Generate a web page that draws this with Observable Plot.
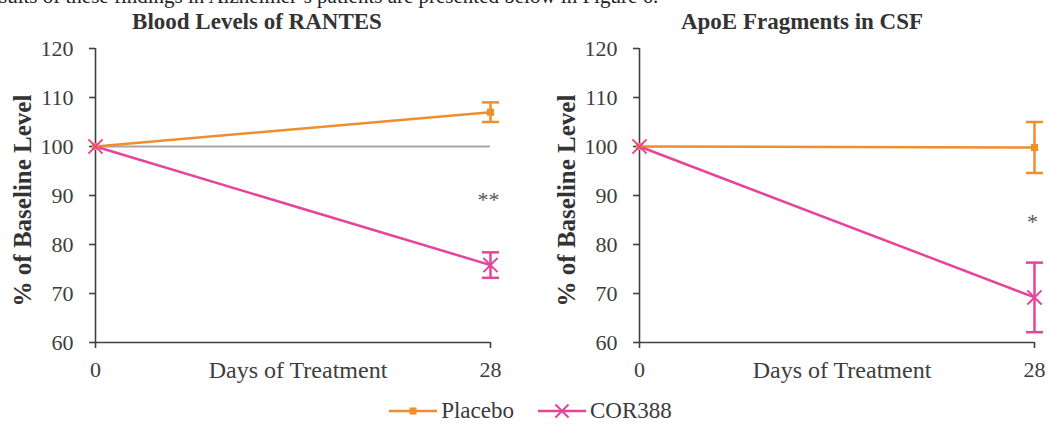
<!DOCTYPE html>
<html>
<head>
<meta charset="utf-8">
<script src="https://cdn.jsdelivr.net/npm/d3@7"></script>
<script src="https://cdn.jsdelivr.net/npm/@observablehq/plot@0.6"></script>
<style>
  html, body { margin: 0; padding: 0; background: #fff; }
  #page { position: relative; width: 1049px; height: 424px; overflow: hidden; font-family: 'Liberation Serif', 'Times New Roman', serif; color: #3a3a3a; }
  .abs { position: absolute; }
  .title { font-weight: bold; font-size: 23px; transform: translateX(-50%); white-space: nowrap; color: #333; line-height: 23px; }
  #sentence { left: -1px; top: -14px; font-size: 21px; line-height: 21px; color: #222; white-space: nowrap; }
  #legend { left: 6px; top: 398px; width: 1049px; display: flex; justify-content: center; align-items: center; font-size: 23px; line-height: 26px; }
  #legend .item { display: flex; align-items: center; }
  #legend svg { display: block; }
  .chart { width: 520px; height: 347px; }
  .chart svg { max-width: none !important; }
</style>
</head>
<body>
<div id="page">
  <div id="sentence" class="abs">sults of these findings in Alzheimer’s patients are presented below in Figure 6.</div>
  <div class="abs title" style="left:257px; top:10px;">Blood Levels of RANTES</div>
  <div class="abs title" style="left:802px; top:10px;">ApoE Fragments in CSF</div>
  <div id="left" class="abs chart" style="left:0px; top:35px;"></div>
  <div id="right" class="abs chart" style="left:544px; top:35px;"></div>
  <div id="legend" class="abs"></div>
</div>
<script>
// ---- data ----
const days = [0, 28];
const seriesNames = ["Placebo", "COR388"];
const seriesColors = ["#ee8e2e", "#e6449b"];
const rantesPlacebo = [100, 107.0];
const rantesPlaceboErr = [0, 2.0];
const rantesCor = [100, 75.8];
const rantesCorErr = [0, 2.6];
const apoePlacebo = [100, 99.8];
const apoePlaceboErr = [0, 5.2];
const apoeCor = [100, 69.2];
const apoeCorErr = [0, 7.1];
const yTicks = [60, 70, 80, 90, 100, 110, 120];
const xTicks = [0, 28];
const rantesSig = {day: 28, value: 89.6, label: "**"};
const apoeSig = {day: 28, value: 85.0, label: "*"};
const baseline = [100];

const axisColor = "#404040";
const textColor = "#3d3d3d";
const capSymbol = {
  draw(context, size) {
    const w = 8.5;
    context.moveTo(-w, 0);
    context.lineTo(w, 0);
  }
};

function rows(placebo, pErr, cor, cErr) {
  const out = [];
  days.forEach((d, i) => {
    out.push({series: seriesNames[0], day: d, value: placebo[i], err: pErr[i]});
    out.push({series: seriesNames[1], day: d, value: cor[i], err: cErr[i]});
  });
  return out;
}

function chart(data, sig, showBaseline) {
  const withErr = data.filter(d => d.err > 0);
  const color = {domain: seriesNames, range: seriesColors};
  return Plot.plot({
    width: 520,
    height: 347,
    marginLeft: 95,
    marginRight: 30,
    marginTop: 13,
    marginBottom: 40,
    x: {domain: [0, 28], axis: null},
    y: {domain: [60, 120], axis: null},
    color,
    style: {fontFamily: "'Liberation Serif', serif", fontSize: "22px", background: "white", color: textColor, overflow: "visible", maxWidth: "none"},
    marks: [
      showBaseline ? Plot.ruleY(baseline, {stroke: "#a6a6a6", strokeWidth: 2}) : null,
      Plot.ruleY([60], {stroke: axisColor, strokeWidth: 1.6}),
      Plot.ruleX([0], {stroke: axisColor, strokeWidth: 1.6}),
      Plot.axisY({ticks: yTicks, tickSize: 6, tickPadding: 16, fontSize: 22, stroke: axisColor, strokeWidth: 1.6, fill: textColor, label: null}),
      Plot.axisX({ticks: xTicks, tickSize: 6, tickPadding: 13, fontSize: 22, stroke: axisColor, strokeWidth: 1.6, fill: textColor, label: null}),
      Plot.text(["Days of Treatment"], {frameAnchor: "bottom", lineAnchor: "middle", dx: 5, dy: 28, fontSize: 24, fill: textColor}),
      Plot.text(["% of Baseline Level"], {frameAnchor: "left", textAnchor: "middle", rotate: -90, dx: -73, dy: 5, fontSize: 25, fontWeight: "bold", fill: "#333"}),
      Plot.line(data, {x: "day", y: "value", z: "series", stroke: "series", strokeWidth: 2.5}),
      Plot.ruleX(withErr, {x: "day", y1: d => d.value - d.err, y2: d => d.value + d.err, stroke: "series", strokeWidth: 2.5}),
      Plot.dot(withErr, {x: "day", y: d => d.value - d.err, symbol: capSymbol, r: 5, fill: "none", stroke: "series", strokeWidth: 2.5}),
      Plot.dot(withErr, {x: "day", y: d => d.value + d.err, symbol: capSymbol, r: 5, fill: "none", stroke: "series", strokeWidth: 2.5}),
      Plot.dot(data.filter(d => d.series === seriesNames[0]), {x: "day", y: "value", symbol: "square", r: 4, fill: "series", stroke: "none"}),
      Plot.dot(data.filter(d => d.series === seriesNames[1]), {x: "day", y: "value", symbol: "times", r: 6.5, fill: "none", stroke: "series", strokeWidth: 2}),
      Plot.text([sig], {x: "day", y: "value", text: "label", fontSize: 22, fill: "#555", dx: -2, dy: 2})
    ]
  });
}

document.getElementById("left").appendChild(chart(rows(rantesPlacebo, rantesPlaceboErr, rantesCor, rantesCorErr), rantesSig, true));
document.getElementById("right").appendChild(chart(rows(apoePlacebo, apoePlaceboErr, apoeCor, apoeCorErr), apoeSig, false));

// legend
const legend = document.getElementById("legend");
seriesNames.forEach((name, i) => {
  const item = document.createElement("div");
  item.className = "item";
  item.style.marginRight = i === 0 ? "24px" : "0";
  const ns = "http://www.w3.org/2000/svg";
  const svg = document.createElementNS(ns, "svg");
  svg.setAttribute("width", 50);
  svg.setAttribute("height", 20);
  const line = document.createElementNS(ns, "line");
  line.setAttribute("x1", 0); line.setAttribute("x2", 48);
  line.setAttribute("y1", 10); line.setAttribute("y2", 10);
  line.setAttribute("stroke", seriesColors[i]);
  line.setAttribute("stroke-width", 2.5);
  svg.appendChild(line);
  const sym = document.createElementNS(ns, "path");
  sym.setAttribute("transform", "translate(24,10)");
  if (i === 0) {
    sym.setAttribute("d", d3.symbol(d3.symbolSquare, 50)());
    sym.setAttribute("fill", seriesColors[i]);
  } else {
    sym.setAttribute("d", d3.symbol(d3.symbolTimes, 113)());
    sym.setAttribute("fill", "none");
    sym.setAttribute("stroke", seriesColors[i]);
    sym.setAttribute("stroke-width", 2);
  }
  svg.appendChild(sym);
  item.appendChild(svg);
  const label = document.createElement("span");
  label.textContent = name;
  label.style.marginLeft = "2px";
  item.appendChild(label);
  legend.appendChild(item);
});
</script>
</body>
</html>
